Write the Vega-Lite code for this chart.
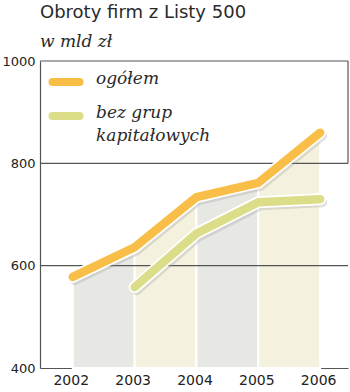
{
  "$schema": "https://vega.github.io/schema/vega-lite/v6.json",
  "autosize": {"type": "none"},
  "width": 308,
  "height": 307,
  "padding": {"left": 40, "top": 61, "right": 2, "bottom": 24},
  "background": "white",
  "config": {"view": {"stroke": null}},
  "title": {
    "text": "Obroty firm z Listy 500",
    "subtitle": "w mld zł",
    "anchor": "start",
    "frame": "group",
    "font": "DejaVu Sans",
    "fontSize": 18,
    "fontWeight": "normal",
    "color": "#2a2a2a",
    "subtitleFont": "DejaVu Serif",
    "subtitleFontStyle": "italic",
    "subtitleFontSize": 17,
    "subtitleColor": "#2a2a2a",
    "subtitlePadding": 12,
    "offset": 5
  },
  "datasets": {
    "series": [
      {"rok": 2002, "wartosc": 578, "seria": "ogółem"},
      {"rok": 2003, "wartosc": 636, "seria": "ogółem"},
      {"rok": 2004, "wartosc": 734, "seria": "ogółem"},
      {"rok": 2005, "wartosc": 762, "seria": "ogółem"},
      {"rok": 2006, "wartosc": 860, "seria": "ogółem"},
      {"rok": 2003, "wartosc": 558, "seria": "bez grup kapitałowych"},
      {"rok": 2004, "wartosc": 663, "seria": "bez grup kapitałowych"},
      {"rok": 2005, "wartosc": 724, "seria": "bez grup kapitałowych"},
      {"rok": 2006, "wartosc": 730, "seria": "bez grup kapitałowych"}
    ],
    "pasy": [
      {"odcinek": 1, "ton": "szary", "rok": 2002, "wartosc": 578},
      {"odcinek": 1, "ton": "szary", "rok": 2003, "wartosc": 636},
      {"odcinek": 2, "ton": "bez", "rok": 2003, "wartosc": 636},
      {"odcinek": 2, "ton": "bez", "rok": 2004, "wartosc": 734},
      {"odcinek": 3, "ton": "szary", "rok": 2004, "wartosc": 734},
      {"odcinek": 3, "ton": "szary", "rok": 2005, "wartosc": 762},
      {"odcinek": 4, "ton": "bez", "rok": 2005, "wartosc": 762},
      {"odcinek": 4, "ton": "bez", "rok": 2006, "wartosc": 860}
    ],
    "siatka": [{"y": 600}, {"y": 800}, {"y": 1000}]
  },
  "layer": [
    {
      "data": {"name": "pasy"},
      "mark": {"type": "area", "stroke": "white", "strokeWidth": 2, "interpolate": "linear"},
      "encoding": {
        "x": {
          "field": "rok", "type": "quantitative",
          "scale": {"domain": [2001.47, 2006.45], "nice": false, "zero": false},
          "axis": {
            "values": [2002, 2003, 2004, 2005, 2006],
            "format": "d",
            "title": null,
            "grid": false,
            "ticks": false,
            "domain": true,
            "domainColor": "#555555",
            "domainWidth": 1.2,
            "labelFont": "DejaVu Sans",
            "labelFontSize": 14,
            "labelColor": "#222222",
            "labelPadding": 5,
            "labelOffset": -2
          }
        },
        "y": {
          "field": "wartosc", "type": "quantitative",
          "stack": null,
          "scale": {"domain": [400, 1000], "nice": false, "zero": false},
          "axis": {
            "values": [400, 600, 800, 1000],
            "format": "d",
            "title": null,
            "grid": false,
            "ticks": false,
            "domain": true,
            "domainColor": "#555555",
            "domainWidth": 1.2,
            "labelFont": "DejaVu Sans",
            "labelFontSize": 13,
            "labelColor": "#222222",
            "labelPadding": 5
          }
        },
        "detail": {"field": "odcinek"},
        "fill": {
          "field": "ton", "type": "nominal",
          "scale": {"domain": ["szary", "bez"], "range": ["#e7e7e3", "#f4f2df"]},
          "legend": null
        }
      }
    },
    {
      "data": {"name": "siatka"},
      "mark": {"type": "rule", "color": "#555555", "strokeWidth": 1.2},
      "encoding": {"y": {"field": "y", "type": "quantitative"}}
    },
    {
      "data": {"values": [{"y": 800, "y2": 1000}]},
      "mark": {"type": "rule", "color": "#555555", "strokeWidth": 1.2},
      "encoding": {
        "x": {"datum": 2006.45, "type": "quantitative"},
        "y": {"field": "y", "type": "quantitative"},
        "y2": {"field": "y2"}
      }
    },
    {
      "data": {"name": "series"},
      "mark": {"type": "line", "stroke": "#9a9a9a", "strokeWidth": 10, "strokeCap": "round", "strokeJoin": "round", "opacity": 0.3, "xOffset": 2, "yOffset": 3},
      "encoding": {
        "x": {"field": "rok", "type": "quantitative"},
        "y": {"field": "wartosc", "type": "quantitative"},
        "detail": {"field": "seria"}
      }
    },
    {
      "data": {"name": "series"},
      "mark": {"type": "line", "stroke": "white", "strokeWidth": 12, "strokeCap": "round", "strokeJoin": "round"},
      "encoding": {
        "x": {"field": "rok", "type": "quantitative"},
        "y": {"field": "wartosc", "type": "quantitative"},
        "detail": {"field": "seria"}
      }
    },
    {
      "data": {"name": "series"},
      "mark": {"type": "line", "strokeWidth": 8.5, "strokeCap": "round", "strokeJoin": "round"},
      "encoding": {
        "x": {"field": "rok", "type": "quantitative"},
        "y": {"field": "wartosc", "type": "quantitative"},
        "stroke": {
          "field": "seria", "type": "nominal",
          "scale": {"domain": ["ogółem", "bez grup kapitałowych"], "range": ["#f8be48", "#dbdd88"]},
          "legend": {
            "title": null,
            "orient": "none",
            "legendX": 8,
            "legendY": 3,
            "symbolType": "stroke",
            "symbolSize": 730,
            "symbolStrokeWidth": 8,
            "labelFont": "DejaVu Serif",
            "labelFontStyle": "italic",
            "labelFontSize": 17,
            "labelColor": "#2a2a2a",
            "labelOffset": 12,
            "labelBaseline": "top",
            "labelLimit": 300,
            "rowPadding": -25,
            "labelExpr": "datum.value == 'bez grup kapitałowych' ? ['bez grup', 'kapitałowych'] : datum.value",
            "encode": {
              "symbols": {"update": {"strokeCap": {"value": "round"}}},
              "labels": {"update": {"dy": {"value": -11}, "lineHeight": {"value": 23}}}
            }
          }
        }
      }
    }
  ]
}
